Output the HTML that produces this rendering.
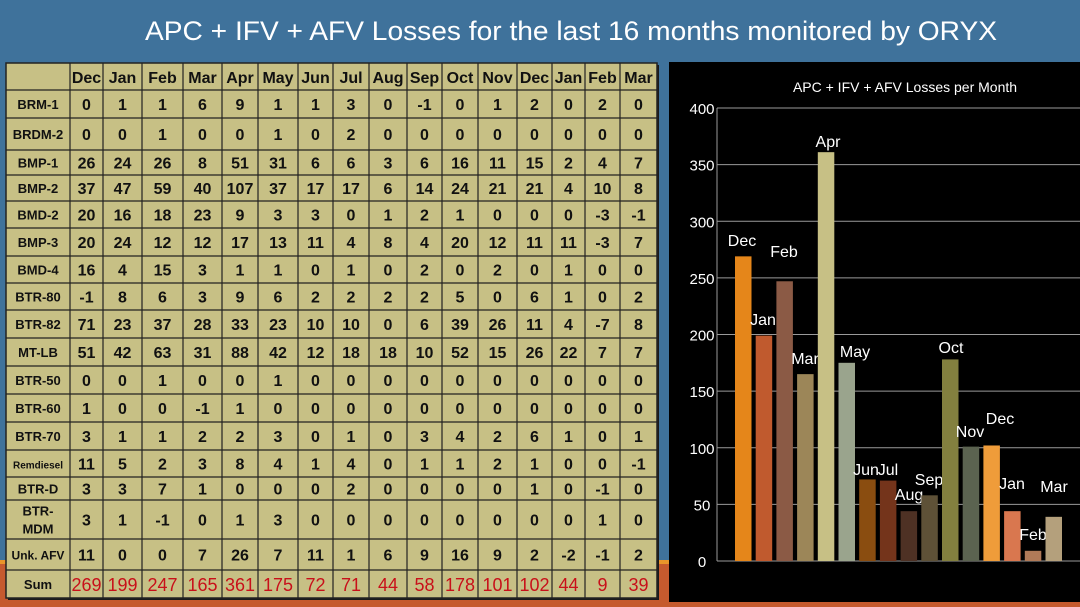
<!DOCTYPE html>
<html><head><meta charset="utf-8">
<style>
html,body{margin:0;padding:0;width:1080px;height:607px;overflow:hidden;background:#3f729b;}
svg{display:block;font-family:"Liberation Sans",sans-serif;}
</style></head>
<body>
<svg id="s" width="1080" height="607" xmlns="http://www.w3.org/2000/svg">
<rect x="0" y="0" width="1080" height="607" fill="#3f729b"/>
<rect x="0" y="563" width="1080" height="44" fill="#c55a2e"/>
<rect x="0" y="560" width="1080" height="4" fill="#e9952a"/>
<text x="571" y="40" fill="#fff" font-size="27" text-anchor="middle" textLength="852" lengthAdjust="spacingAndGlyphs">APC + IFV + AFV Losses for the last 16 months monitored by ORYX</text>
<g id="tbl"></g>
<rect x="669" y="62" width="411" height="540" fill="#000"/>
<g id="chart"></g>
</svg>
<script>
const NS="http://www.w3.org/2000/svg";
function el(p,t,a,txt){const e=document.createElementNS(NS,t);for(const k in a)e.setAttribute(k,a[k]);if(txt!==undefined)e.textContent=txt;p.appendChild(e);return e;}
const tbl=document.getElementById('tbl');
const cx=[6,70,103,142,183,222,258,298,333,369,407,442,478,517,552,585,620,657];
const ry=[63,90,118,150,175,201,228,256,283,310,338,366,394,422,450,477,500,539,570,598];
const months=["Dec","Jan","Feb","Mar","Apr","May","Jun","Jul","Aug","Sep","Oct","Nov","Dec","Jan","Feb","Mar"];
const rows=[
["BRM-1",0,1,1,6,9,1,1,3,0,-1,0,1,2,0,2,0],
["BRDM-2",0,0,1,0,0,1,0,2,0,0,0,0,0,0,0,0],
["BMP-1",26,24,26,8,51,31,6,6,3,6,16,11,15,2,4,7],
["BMP-2",37,47,59,40,107,37,17,17,6,14,24,21,21,4,10,8],
["BMD-2",20,16,18,23,9,3,3,0,1,2,1,0,0,0,-3,-1],
["BMP-3",20,24,12,12,17,13,11,4,8,4,20,12,11,11,-3,7],
["BMD-4",16,4,15,3,1,1,0,1,0,2,0,2,0,1,0,0],
["BTR-80",-1,8,6,3,9,6,2,2,2,2,5,0,6,1,0,2],
["BTR-82",71,23,37,28,33,23,10,10,0,6,39,26,11,4,-7,8],
["MT-LB",51,42,63,31,88,42,12,18,18,10,52,15,26,22,7,7],
["BTR-50",0,0,1,0,0,1,0,0,0,0,0,0,0,0,0,0],
["BTR-60",1,0,0,-1,1,0,0,0,0,0,0,0,0,0,0,0],
["BTR-70",3,1,1,2,2,3,0,1,0,3,4,2,6,1,0,1],
["Remdiesel",11,5,2,3,8,4,1,4,0,1,1,2,1,0,0,-1],
["BTR-D",3,3,7,1,0,0,0,2,0,0,0,0,1,0,-1,0],
["BTR-MDM",3,1,-1,0,1,3,0,0,0,0,0,0,0,0,1,0],
["Unk. AFV",11,0,0,7,26,7,11,1,6,9,16,9,2,-2,-1,2]];
const sums=[269,199,247,165,361,175,72,71,44,58,178,101,102,44,9,39];
el(tbl,'rect',{x:8,y:65,width:651,height:535,fill:'#1a1a1a'});
el(tbl,'rect',{x:6,y:63,width:651,height:535,fill:'#c7c085',stroke:'#222','stroke-width':1.5});
for(let i=1;i<cx.length-1;i++)el(tbl,'line',{x1:cx[i],y1:63,x2:cx[i],y2:598,stroke:'#222','stroke-width':1.2});
for(let j=1;j<ry.length-1;j++)el(tbl,'line',{x1:6,y1:ry[j],x2:657,y2:ry[j],stroke:'#222','stroke-width':1.2});
function mid(a,i){return (a[i]+a[i+1])/2;}
months.forEach((m,i)=>el(tbl,'text',{x:mid(cx,i+1),y:83,'font-size':16,'font-weight':'bold','text-anchor':'middle',fill:'#111'},m));
rows.forEach((r,j)=>{
  const y=mid(ry,j+1);
  if(r[0]==="BTR-MDM"){
    el(tbl,'text',{x:38,y:y-4,'font-size':13,'font-weight':'bold','text-anchor':'middle',fill:'#111'},"BTR-");
    el(tbl,'text',{x:38,y:y+14,'font-size':13,'font-weight':'bold','text-anchor':'middle',fill:'#111'},"MDM");
  } else {
    const fs=r[0]==="Remdiesel"?10:(r[0]==="Unk. AFV"?12:13);
    el(tbl,'text',{x:38,y:y+5,'font-size':fs,'font-weight':'bold','text-anchor':'middle',fill:'#111'},r[0]);
  }
  for(let i=1;i<=16;i++)el(tbl,'text',{x:mid(cx,i),y:y+6,'font-size':16,'font-weight':'600','text-anchor':'middle',fill:'#111'},r[i]);
});
const sy=mid(ry,18);
el(tbl,'text',{x:38,y:sy+5,'font-size':13,'font-weight':'bold','text-anchor':'middle',fill:'#111'},"Sum");
sums.forEach((v,i)=>el(tbl,'text',{x:mid(cx,i+1),y:sy+7,'font-size':18,'text-anchor':'middle',fill:'#c8101a'},v));

const ch=document.getElementById('chart');
el(ch,'text',{x:905,y:92,'font-size':14,'text-anchor':'middle',fill:'#fff'},"APC + IFV + AFV Losses per Month");
const y0=561,sc=453/400;
for(let v=0;v<=400;v+=50){
  const y=y0-v*sc;
  if(v>0)el(ch,'line',{x1:717,y1:y,x2:1080,y2:y,stroke:'#9a9a9a','stroke-width':1});
  el(ch,'text',{x:702,y:y+6,'font-size':15,'text-anchor':'middle',fill:'#fff'},v);
}
el(ch,'line',{x1:717,y1:108,x2:717,y2:561,stroke:'#9a9a9a','stroke-width':1});
el(ch,'line',{x1:717,y1:561,x2:1080,y2:561,stroke:'#9a9a9a','stroke-width':1});
const cols=["#e5861a","#c05a2e","#8b5a45","#9c8658","#c7c085","#9aa48d","#8a4d10","#74341b","#4e3124","#5e5137","#83803f","#5b6350","#ef9c3a","#d9774f","#b07a58","#b4a07c"];
const lab=[[742,246],[763,325],[784,257],[805,364],[828,147],[855,357],[866,475],[888,475],[909,500],[929,485],[951,353],[970,437],[1000,424],[1012,489],[1033,540],[1054,492]];
sums.forEach((v,i)=>{
  const x=735+i*20.7,h=v*sc;
  el(ch,'rect',{x:x,y:y0-h,width:16.5,height:h,fill:cols[i]});
  el(ch,'text',{x:lab[i][0],y:lab[i][1],'font-size':16,'text-anchor':'middle',fill:'#fff'},months[i]);
});
</script>
</body></html>
